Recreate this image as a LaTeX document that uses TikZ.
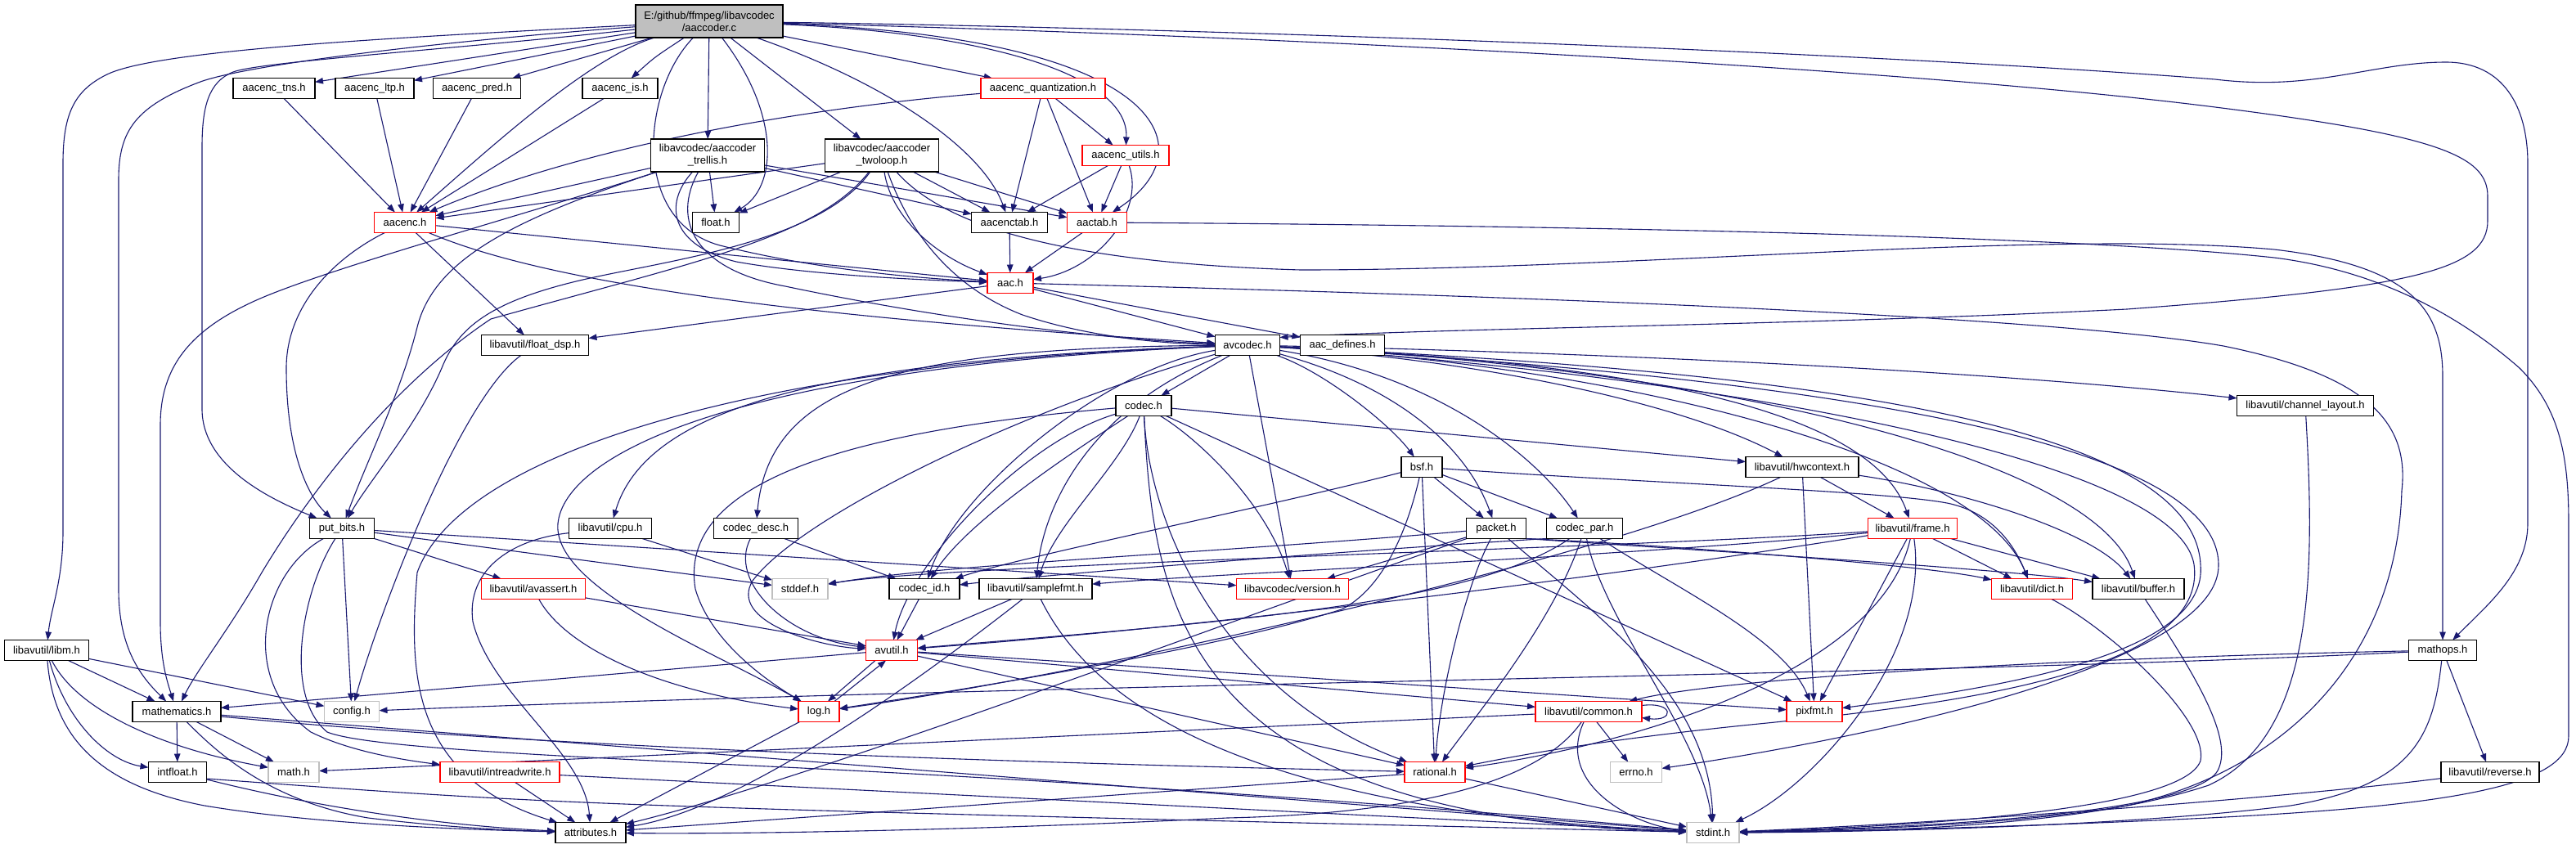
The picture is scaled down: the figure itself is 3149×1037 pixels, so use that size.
\documentclass[tikz,border=0pt]{standalone}
\usepackage{fontspec}
\setmainfont{Liberation Sans}
\usetikzlibrary{arrows.meta}
\definecolor{edgecol}{HTML}{191970}
\definecolor{nodegray}{HTML}{BFBFBF}
\pgfdeclarelayer{bg}
\pgfsetlayers{bg,main}
\tikzset{
  box/.style={draw=black, fill=white, line width=1.2pt, minimum height=25pt, inner sep=0pt, outer sep=0pt, font=\fontsize{13}{15}\selectfont, align=center},
  rbox/.style={box, draw=red},
  gbox/.style={box, draw=nodegray},
  edg/.style={draw=edgecol, line width=1.1pt, -{Triangle[length=10pt,width=7.5pt]}},
}
\begin{document}
\begin{tikzpicture}[x=1pt,y=-1pt]
\begin{pgfonlayer}{bg}
\fill[white] (0,0) rectangle (3149,1037);
\end{pgfonlayer}
\useasboundingbox (0,0) rectangle (3149,1037);
% nodes
\node[box, fill=nodegray, minimum width=180pt, minimum height=40pt] (E) at (867,26) {E:/github/ffmpeg/libavcodec\\/aaccoder.c};
\node[box, minimum width=100pt] (tns) at (335,108) {aacenc\_tns.h};
\node[box, minimum width=96pt] (ltp) at (458,108) {aacenc\_ltp.h};
\node[box, minimum width=107pt] (pred) at (583,108) {aacenc\_pred.h};
\node[box, minimum width=92pt] (is) at (758,108) {aacenc\_is.h};
\node[rbox, minimum width=152pt] (quant) at (1275,108) {aacenc\_quantization.h};
\node[box, minimum width=139pt, minimum height=40pt] (trellis) at (865,190) {libavcodec/aaccoder\\\_trellis.h};
\node[box, minimum width=139pt, minimum height=40pt] (twoloop) at (1078,190) {libavcodec/aaccoder\\\_twoloop.h};
\node[rbox, minimum width=106pt] (utils) at (1376,190) {aacenc\_utils.h};
\node[rbox, minimum width=75pt] (aacenc) at (495,272) {aacenc.h};
\node[box, minimum width=57pt] (float) at (875,272) {float.h};
\node[box, minimum width=93pt] (aacenctab) at (1234,272) {aacenctab.h};
\node[rbox, minimum width=73pt] (aactab) at (1341,272) {aactab.h};
\node[rbox, minimum width=56pt] (aac) at (1235,346) {aac.h};
\node[box, minimum width=131pt] (floatdsp) at (654,422) {libavutil/float\_dsp.h};
\node[box, minimum width=79pt] (avcodec) at (1525,422) {avcodec.h};
\node[box, minimum width=103pt] (aacdef) at (1641,422) {aac\_defines.h};
\node[box, minimum width=68pt] (codec) at (1398,496) {codec.h};
\node[box, minimum width=167pt] (chlayout) at (2818,496) {libavutil/channel\_layout.h};
\node[box, minimum width=50pt] (bsf) at (1738,571) {bsf.h};
\node[box, minimum width=138pt] (hwctx) at (2203,571) {libavutil/hwcontext.h};
\node[box, minimum width=79pt] (putbits) at (418,646) {put\_bits.h};
\node[box, minimum width=101pt] (cpu) at (746,646) {libavutil/cpu.h};
\node[box, minimum width=103pt] (codecdesc) at (924,646) {codec\_desc.h};
\node[box, minimum width=73pt] (packet) at (1829,646) {packet.h};
\node[box, minimum width=93pt] (codecpar) at (1937,646) {codec\_par.h};
\node[rbox, minimum width=109pt] (frame) at (2338,646) {libavutil/frame.h};
\node[rbox, minimum width=127pt] (avassert) at (652,720) {libavutil/avassert.h};
\node[gbox, minimum width=68pt] (stddef) at (978,720) {stddef.h};
\node[box, minimum width=86pt] (codecid) at (1130,720) {codec\_id.h};
\node[box, minimum width=138pt] (samplefmt) at (1266,720) {libavutil/samplefmt.h};
\node[rbox, minimum width=137pt] (version) at (1580,720) {libavcodec/version.h};
\node[rbox, minimum width=99pt] (dict) at (2484,720) {libavutil/dict.h};
\node[box, minimum width=112pt] (buffer) at (2614,720) {libavutil/buffer.h};
\node[box, minimum width=103pt] (libm) at (57,795) {libavutil/libm.h};
\node[rbox, minimum width=63pt] (avutil) at (1090,795) {avutil.h};
\node[box, minimum width=83pt] (mathops) at (2986,795) {mathops.h};
\node[box, minimum width=108pt] (mathematics) at (216,870) {mathematics.h};
\node[gbox, minimum width=67pt] (config) at (430,870) {config.h};
\node[rbox, minimum width=50pt] (log) at (1001,870) {log.h};
\node[rbox, minimum width=130pt] (common) at (1942,870) {libavutil/common.h};
\node[rbox, minimum width=68pt] (pixfmt) at (2218,870) {pixfmt.h};
\node[box, minimum width=71pt] (intfloat) at (217,944) {intfloat.h};
\node[gbox, minimum width=62pt] (math) at (359,944) {math.h};
\node[rbox, minimum width=146pt] (intrw) at (611,944) {libavutil/intreadwrite.h};
\node[rbox, minimum width=74pt] (rational) at (1754,944) {rational.h};
\node[gbox, minimum width=63pt] (errno) at (2000,944) {errno.h};
\node[box, minimum width=120pt] (reverse) at (3044,944) {libavutil/reverse.h};
\node[box, minimum width=86pt] (attributes) at (722,1018) {attributes.h};
\node[gbox, minimum width=64pt] (stdint) at (2094,1018) {stdint.h};

\begin{pgfonlayer}{bg}
% E
\draw[edg] (E) -- (tns);
\draw[edg] (E) -- (ltp);
\draw[edg] (E) -- (pred);
\draw[edg] (E) .. controls (800,70) .. (is);
\draw[edg] (E) .. controls (720,70) and (600,180) .. (aacenc);
\draw[edg] (E) .. controls (785,110) and (770,270) .. (880,300) .. controls (1000,330) and (1120,340) .. (aac);
\draw[edg] (E) -- (trellis);
\draw[edg] (E) .. controls (955,140) and (950,230) .. (float);
\draw[edg] (E) -- (twoloop);
\draw[edg] (E) .. controls (1080,100) and (1200,180) .. (aacenctab);
\draw[edg] (E) -- (quant);
\draw[edg] (E) .. controls (1200,40) and (1380,90) .. (utils);
\draw[edg] (E) .. controls (1420,45) and (1480,180) .. (aactab);
\draw[edg] (E) .. controls (1500,42) and (2300,80) .. (2700,130) .. controls (2980,165) and (3041,190) .. (3041,240) -- (3041,270) .. controls (3041,330) and (2950,352) .. (2600,378) .. controls (2200,398) and (1800,400) .. ([yshift=-3pt]avcodec.north east);
\draw[edg] (E) .. controls (1500,35) and (2300,65) .. (2708,97) .. controls (2830,112) and (2900,76) .. (2990,76) .. controls (3060,76) and (3090,130) .. (3090,200) -- (3090,640) .. controls (3090,700) and (3040,740) .. (mathops);
\draw[edg] (E) .. controls (500,45) and (200,60) .. (133,90) .. controls (90,110) and (77,140) .. (77,200) -- (77,650) .. controls (77,710) and (62,745) .. (libm);
\draw[edg] (E) .. controls (520,52) and (300,80) .. (245,100) .. controls (165,130) and (145,160) .. (145,220) -- (145,720) .. controls (145,790) and (170,825) .. (mathematics);
\draw[edg] (E) .. controls (560,60) and (320,75) .. (285,88) .. controls (255,100) and (247,130) .. (247,180) -- (247,500) .. controls (247,570) and (330,610) .. (putbits);
% second level
\draw[edg] (tns) -- (aacenc);
\draw[edg] (ltp) -- (aacenc);
\draw[edg] (pred) -- (aacenc);
\draw[edg] (is) -- (aacenc);
\draw[edg] (quant) .. controls (950,135) and (700,185) .. (aacenc);
\draw[edg] (quant) -- (aacenctab);
\draw[edg] (quant) -- (aactab);
\draw[edg] (quant) -- (utils);
\draw[edg] (utils) -- (aacenctab);
\draw[edg] (utils) -- (aactab);
\draw[edg] (utils) .. controls (1400,260) and (1340,330) .. (aac);
\draw[edg] (trellis) -- (float);
\draw[edg] (trellis) -- (aacenc);
\draw[edg] (trellis) -- (aacenctab);
\draw[edg] (trellis) -- (aactab);
\draw[edg] (trellis) .. controls (810,250) and (820,300) .. (900,320) .. controls (1000,338) and (1150,343) .. (aac);
\draw[edg] (trellis) .. controls (820,270) and (850,330) .. (960,350) .. controls (1150,390) and (1350,415) .. (avcodec);
\draw[edg] (trellis) .. controls (650,260) and (430,320) .. (330,360) .. controls (230,400) and (196,450) .. (196,520) -- (196,760) .. controls (196,810) and (205,835) .. (mathematics);
\draw[edg] (trellis) .. controls (620,270) and (530,320) .. (510,400) .. controls (490,480) and (450,560) .. (putbits);
\draw[edg] (twoloop) -- (float);
\draw[edg] (twoloop) -- (aacenctab);
\draw[edg] (twoloop) -- (aactab);
\draw[edg] (twoloop) -- (aacenc);
\draw[edg] (twoloop) .. controls (1090,270) and (1150,315) .. (aac);
\draw[edg] (twoloop) .. controls (1110,280) and (1160,350) .. (1250,385) .. controls (1330,412) and (1420,420) .. (avcodec);
\draw[edg] (twoloop) .. controls (1140,260) and (1250,320) .. (1590,330) .. controls (2000,330) and (2500,280) .. (2780,305) .. controls (2950,325) and (2986,380) .. (2986,460) -- (mathops);
\draw[edg] (twoloop) .. controls (1000,290) and (850,320) .. (600,390) .. controls (480,470) and (380,600) .. (320,700) .. controls (280,770) and (240,820) .. (mathematics);
\draw[edg] (twoloop) .. controls (1000,300) and (800,320) .. (700,345) .. controls (600,370) and (560,400) .. (540,450) .. controls (510,520) and (450,590) .. (putbits);
% aacenc
\draw[edg] (aacenc) -- (floatdsp);
\draw[edg] (aacenc) .. controls (400,320) and (350,380) .. (350,450) .. controls (350,560) and (380,610) .. (putbits);
\draw[edg] (aacenc) -- (aac);
\draw[edg] (aacenc) .. controls (700,360) and (1100,395) .. (avcodec);
\draw[edg] (aacenctab) -- (aac);
\draw[edg] (aactab) -- (aac);
\draw[edg] (aactab) .. controls (1800,275) and (2500,285) .. (2780,315) .. controls (2900,330) and (3000,380) .. (3080,450) .. controls (3130,500) and (3140,560) .. (3140,640) -- (3140,900) .. controls (3140,960) and (3000,985) .. (2700,1000) .. controls (2450,1012) and (2250,1016) .. (stdint);
% aac
\draw[edg] (aac) -- (aacdef);
\draw[edg] (aac) -- (avcodec);
\draw[edg] (aac) -- (floatdsp);
\draw[edg] (aac) .. controls (1800,360) and (2500,385) .. (2718,423) .. controls (2900,460) and (2945,520) .. (2936,600) .. controls (2930,800) and (2800,940) .. (2600,985) .. controls (2450,1010) and (2250,1015) .. (stdint);
\draw[edg] (floatdsp) .. controls (560,490) and (460,760) .. (config);
% avcodec
\draw[edg] (avcodec) -- (codec);
\draw[edg] (avcodec) -- (version);
\draw[edg] (avcodec) .. controls (1100,425) and (940,470) .. (codecdesc);
\draw[edg] (avcodec) .. controls (1000,440) and (790,500) .. (cpu);
\draw[edg] (avcodec) .. controls (900,445) and (560,560) .. (510,700) .. controls (500,820) and (500,950) .. (attributes);
\draw[edg] (avcodec) .. controls (880,450) and (690,560) .. (682,640) .. controls (675,720) and (880,800) .. (log);
\draw[edg] (avcodec) .. controls (1350,450) and (1170,600) .. (codecid);
\draw[edg] (avcodec) .. controls (1330,500) and (1275,620) .. (samplefmt);
\draw[edg] (avcodec) .. controls (1250,500) and (980,630) .. (920,710) .. controls (890,760) and (1000,790) .. (avutil);
\draw[edg] (avcodec) .. controls (1620,455) and (1700,520) .. (bsf);
\draw[edg] (avcodec) .. controls (1700,470) and (1790,540) .. (packet);
\draw[edg] (avcodec) .. controls (1760,460) and (1880,560) .. (codecpar);
\draw[edg] (avcodec) .. controls (1800,440) and (2050,490) .. (hwctx);
\draw[edg] (avcodec) .. controls (1900,440) and (2280,480) .. (frame);
\draw[edg] (avcodec) .. controls (1900,430) and (2400,450) .. (chlayout);
\draw[edg] (avcodec) .. controls (2000,450) and (2420,560) .. (dict);
\draw[edg] (avcodec) .. controls (2100,450) and (2560,560) .. (buffer);
\draw[edg] (avcodec) .. controls (2100,450) and (2680,500) .. (2690,690) .. controls (2700,800) and (2450,840) .. (pixfmt);
\draw[edg] (avcodec) .. controls (2100,455) and (2710,520) .. (2712,690) .. controls (2715,810) and (2300,900) .. (errno);
\draw[edg] (avcodec) .. controls (2100,460) and (2660,560) .. (2682,690) .. controls (2700,820) and (2400,860) .. (2150,885) .. controls (1950,905) and (1850,925) .. (rational);
% codec
\draw[edg] (codec) -- (hwctx);
\draw[edg] (codec) .. controls (1470,540) and (1550,620) .. (version);
\draw[edg] (codec) .. controls (1300,560) and (1180,640) .. (codecid);
\draw[edg] (codec) .. controls (1370,570) and (1290,640) .. (samplefmt);
\draw[edg] (codec) .. controls (1250,540) and (1110,690) .. (avutil);
\draw[edg] (codec) .. controls (1000,530) and (830,600) .. (850,720) .. controls (870,790) and (950,840) .. (log);
\draw[edg] (codec) -- (pixfmt);
\draw[edg] (codec) .. controls (1405,650) and (1500,850) .. (rational);
\draw[edg] (codec) .. controls (1410,750) and (1450,1000) .. (stdint);
% codec_desc, codec_id, samplefmt
\draw[edg] (codecdesc) -- (codecid);
\draw[edg] (codecdesc) .. controls (890,710) and (960,780) .. (avutil);
\draw[edg] (codecid) -- (avutil);
\draw[edg] (samplefmt) -- (avutil);
\draw[edg] (samplefmt) .. controls (1100,850) and (900,990) .. (attributes);
\draw[edg] (samplefmt) .. controls (1330,850) and (1500,990) .. (stdint);
% bsf
\draw[edg] (bsf) -- (packet);
\draw[edg] (bsf) -- (codecpar);
\draw[edg] (bsf) .. controls (2000,590) and (2300,600) .. (2380,615) .. controls (2430,625) and (2460,660) .. (dict);
\draw[edg] (bsf) .. controls (1550,620) and (1250,680) .. (codecid);
\draw[edg] (bsf) .. controls (1720,650) and (1690,720) .. (1640,745) .. controls (1500,790) and (1200,840) .. (log);
\draw[edg] (bsf) -- (rational);
% packet
\draw[edg] (packet) -- (version);
\draw[edg] (packet) .. controls (1500,675) and (1150,690) .. (stddef);
\draw[edg] (packet) .. controls (1500,760) and (1000,950) .. (attributes);
\draw[edg] (packet) .. controls (1790,720) and (1760,850) .. (rational);
\draw[edg] (packet) .. controls (1950,750) and (2090,850) .. (stdint);
\draw[edg] (packet.south east) .. controls (2000,668) and (2450,695) .. (buffer);
\draw[edg] (packet.south east) .. controls (2000,664) and (2350,690) .. (dict);
% codec_par
\draw[edg] (codecpar.south west) .. controls (1700,670) and (1300,700) .. (codecid);
\draw[edg] (codecpar) .. controls (1800,740) and (1500,760) .. (avutil);
\draw[edg] (codecpar) .. controls (1900,760) and (1800,880) .. (rational);
\draw[edg] (codecpar) .. controls (1960,760) and (2080,900) .. (stdint);
\draw[edg] (codecpar) .. controls (2050,720) and (2180,780) .. (pixfmt);
% hwcontext
\draw[edg] (hwctx) -- (frame);
\draw[edg] (hwctx) .. controls (2400,600) and (2560,650) .. (buffer);
\draw[edg] (hwctx) -- (pixfmt);
\draw[edg] (hwctx) .. controls (1950,690) and (1300,830) .. (log);
% frame
\draw[edg] (frame) -- (dict);
\draw[edg] (frame) -- (buffer);
\draw[edg] (frame) -- (pixfmt);
\draw[edg] (frame) .. controls (2360,800) and (2220,960) .. (stdint);
\draw[edg] (frame) .. controls (2300,820) and (2000,910) .. (rational);
\draw[edg] (frame) .. controls (2000,670) and (1150,690) .. (stddef);
\draw[edg] (frame) .. controls (2000,700) and (1500,765) .. (avutil);
\draw[edg] (frame) .. controls (2000,680) and (1500,700) .. (samplefmt);
% leaves to stdint
\draw[edg] (dict) .. controls (2580,770) and (2700,880) .. (2690,930) .. controls (2670,990) and (2350,1010) .. (stdint);
\draw[edg] (buffer) .. controls (2680,820) and (2730,900) .. (2712,940) .. controls (2690,995) and (2350,1012) .. (stdint);
\draw[edg] (chlayout) .. controls (2830,700) and (2830,900) .. (2700,960) .. controls (2550,1010) and (2300,1017) .. (stdint);
\draw[edg] (mathops) .. controls (2975,900) and (2950,960) .. (2800,985) .. controls (2600,1010) and (2300,1017) .. (stdint);
\draw[edg] (reverse) .. controls (2800,975) and (2400,1005) .. (stdint);
\draw[edg] (mathops) -- (reverse);
\draw[edg] (mathops) .. controls (2500,805) and (2100,830) .. (common);
\draw[edg] (mathops) .. controls (2400,825) and (1300,835) .. (config);
% avutil, log, avassert
\draw[edg] (avutil) -- (common);
\draw[edg] (avutil) -- (rational);
\draw[edg] (avutil) -- (pixfmt);
\draw[edg] (avutil) -- (mathematics);
\draw[edg] ([xshift=-20pt]avutil.south) -- ([xshift=11pt]log.north);
\draw[edg] ([xshift=19pt]log.north) -- ([xshift=-7pt]avutil.south);
\draw[edg] (log) -- (attributes);
\draw[edg] (avassert) -- (avutil);
\draw[edg] (avassert) .. controls (690,790) and (800,845) .. (log);
% common
\draw[edg] (common) -- (errno);
\draw[edg] (common) -- (math);
\draw[edg] (common) .. controls (1900,960) and (2000,1010) .. (stdint);
\draw[edg] (common) .. controls (1880,960) and (1720,995) .. (1500,1000) .. controls (1200,1015) and (900,1020) .. (attributes);
\draw[edg] ([yshift=-5pt]common.north east) .. controls +(40,-5) and +(40,5) .. ([yshift=5pt]common.south east);
\draw[edg] (rational) -- (stdint);
\draw[edg] (rational) -- (attributes);
% mathematics and co
\draw[edg] (mathematics) -- (intfloat);
\draw[edg] (mathematics) -- (math);
\draw[edg] (mathematics) .. controls (265,920) and (330,980) .. (450,1000) .. controls (550,1012) and (620,1015) .. (attributes);
\draw[edg] (mathematics) -- (stdint);
\draw[edg] ([yshift=-6pt]mathematics.east) .. controls (500,898) and (900,925) .. (rational);
\draw[edg] ([yshift=-8pt]intfloat.east) .. controls (700,985) .. (stdint);
\draw[edg] (intfloat) .. controls (400,990) and (550,1010) .. (attributes);
\draw[edg] (intrw) -- (attributes);
\draw[edg] (intrw) -- (stdint);
\draw[edg] (libm) -- (mathematics);
\draw[edg] (libm) -- (config);
\draw[edg] (libm) .. controls (80,880) and (130,930) .. (intfloat);
\draw[edg] (libm) .. controls (95,870) and (200,915) .. (math);
\draw[edg] (libm) .. controls (65,900) and (120,960) .. (250,985) .. controls (400,1010) and (600,1015) .. (attributes);
% put_bits
\draw[edg] (putbits) .. controls (320,700) and (290,830) .. (380,895) .. controls (430,920) and (500,930) .. (intrw);
\draw[edg] (putbits) .. controls (370,720) and (345,850) .. (400,895) .. controls (450,915) and (700,925) .. (1000,940) .. controls (1500,965) and (1900,1000) .. (stdint);
\draw[edg] (putbits) -- (config);
\draw[edg] (putbits) -- (avassert);
\draw[edg] (putbits) -- (stddef);
\draw[edg] (putbits) -- (version);
% cpu
\draw[edg] (cpu) .. controls (620,660) and (570,700) .. (578,760) .. controls (600,850) and (715,920) .. (attributes);
\draw[edg] (cpu) -- (stddef);
\end{pgfonlayer}
\end{tikzpicture}
\end{document}
